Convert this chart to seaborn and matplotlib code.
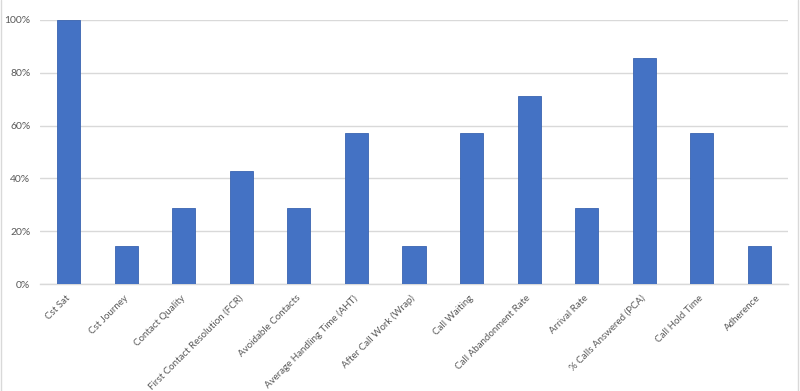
import matplotlib
matplotlib.use('Agg')
import matplotlib.pyplot as plt
import matplotlib.ticker as mtick
from matplotlib.lines import Line2D
import seaborn as sns
import pandas as pd

categories = ['Cst Sat', 'Cst Journey', 'Contact Quality', 'First Contact Resolution (FCR)',
              'Avoidable Contacts', 'Average Handling Time (AHT)', 'After Call Work (Wrap)',
              'Call Waiting', 'Call Abandonment Rate', 'Arrival Rate',
              '% Calls Answered (PCA)', 'Call Hold Time', 'Adherence']
values = [1.0, 0.143, 0.286, 0.429, 0.286, 0.571, 0.143,
          0.571, 0.714, 0.286, 0.857, 0.571, 0.143]

df = pd.DataFrame({'kpi': categories, 'share': values})

sns.set_style('white')
plt.rcParams['font.family'] = ['Lato', 'DejaVu Sans']

fig = plt.figure(figsize=(8, 3.91), dpi=100)
ax = fig.add_axes([0.05, 1 - 284 / 391, 0.935, 264 / 391])

sns.barplot(data=df, x='kpi', y='share', color='#4472C4', width=0.4,
            saturation=1, edgecolor='#3A64B0', linewidth=0.6, ax=ax, zorder=3)

ax.set_ylim(0, 1)
ax.set_xlim(-0.5, len(categories) - 0.5)
ax.yaxis.set_major_locator(mtick.MultipleLocator(0.2))
ax.yaxis.set_major_formatter(mtick.PercentFormatter(1.0, decimals=0))
ax.grid(axis='y', color='#D9D9D9', linewidth=1, zorder=0)
ax.set_xlabel('')
ax.set_ylabel('')
for s in ['top', 'right', 'left']:
    ax.spines[s].set_visible(False)
ax.spines['bottom'].set_color('#D9D9D9')
ax.spines['bottom'].set_linewidth(1)
ax.tick_params(axis='y', length=0, labelsize=7.5, colors='#595959', pad=7)
ax.tick_params(axis='x', length=0, labelsize=7, colors='#595959', pad=9)
plt.setp(ax.get_xticklabels(), rotation=45, ha='right', va='center', rotation_mode='anchor')

fig.add_artist(Line2D([0.001, 0.001], [0, 1], transform=fig.transFigure, color='#D9D9D9', linewidth=1))
fig.add_artist(Line2D([0.998, 0.998], [0, 1], transform=fig.transFigure, color='#D9D9D9', linewidth=1))

plt.savefig('out.png', dpi=100)
